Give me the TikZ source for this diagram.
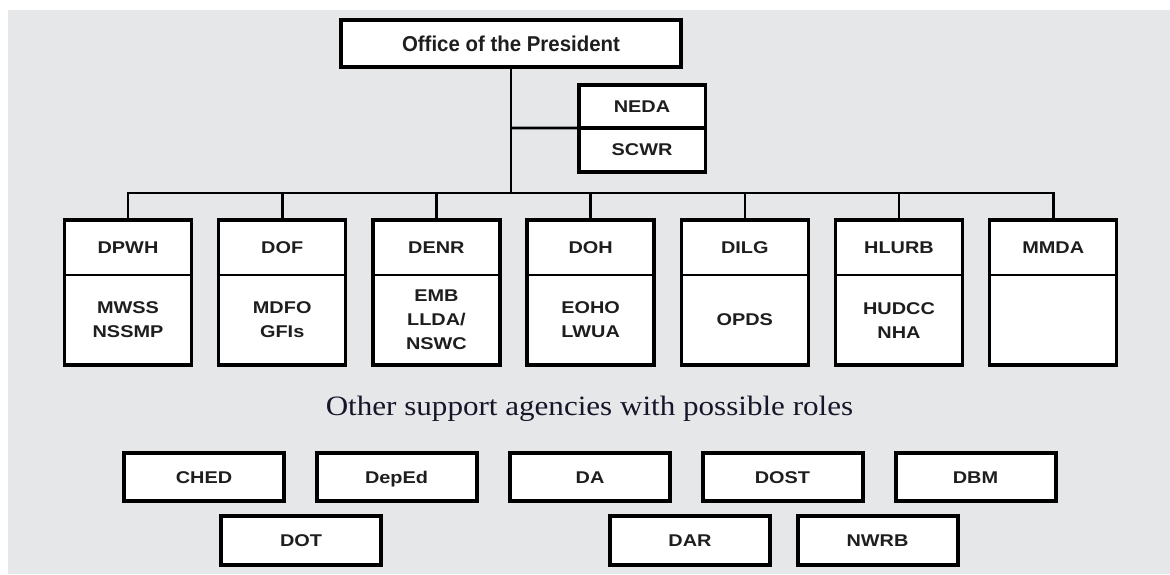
\documentclass[tikz,border=0pt]{standalone}
\usepackage{fontspec}
\setmainfont{Liberation Serif}
\newfontfamily\boxfont{Liberation Sans}[FakeStretch=1.17]
\newfontfamily\presfont{Liberation Sans}[FakeStretch=0.95]
\newfontfamily\captfont{Liberation Serif}[FakeStretch=1.11]
\definecolor{bgray}{HTML}{E6E7E9}
\definecolor{labelc}{HTML}{1E1E1E}
\definecolor{serifc}{HTML}{16162A}
\tikzset{
  outerbox/.style={draw=black, line width=3.5pt},
  headbox/.style={draw=black, line width=1.3pt, fill=white, inner sep=0pt, outer sep=0pt,
    minimum width=127pt, minimum height=55pt, align=center, text=labelc,
    font=\boxfont\bfseries\fontsize{17}{24}\selectfont},
  bodybox/.style={headbox, minimum height=90pt},
  presbox/.style={draw=black, line width=4pt, fill=white, inner sep=0pt, outer sep=0pt,
    minimum width=340pt, minimum height=47pt, text=labelc,
    font=\presfont\bfseries\fontsize{21.5}{24}\selectfont},
  sidebox/.style={draw=black, line width=3.5pt, fill=white, inner sep=0pt, outer sep=0pt,
    minimum width=126.5pt, text=labelc,
    font=\boxfont\bfseries\fontsize{17}{24}\selectfont},
  otherbox/.style={draw=black, line width=4pt, fill=white, inner sep=0pt, outer sep=0pt,
    minimum width=160pt, minimum height=48pt, text=labelc, text height=12.3pt, text depth=0pt,
    font=\boxfont\bfseries\fontsize{17}{24}\selectfont},
  conn/.style={draw=black, line width=2.6pt},
}
\begin{document}
\begin{tikzpicture}[x=1pt,y=-1pt]
\useasboundingbox (0,0) rectangle (1170,574);
\fill[white] (0,0) rectangle (1170,574);
\fill[bgray] (8,10) rectangle (1170,574);

% top
\node[presbox] (pres) at (511,43.5) {Office of the President};
\node[sidebox, minimum height=43.25pt] (neda) at (642,106.4) {NEDA};
\node[sidebox, minimum height=44.25pt] (scwr) at (642,150.1) {SCWR};

% branch boxes
\foreach \i/\hd/\bd in {1/DPWH/{MWSS\\NSSMP},2/DOF/{MDFO\\GFIs},3/DENR/{EMB\\LLDA/\\NSWC},
  4/DOH/{EOHO\\LWUA},5/DILG/{OPDS},6/HLURB/{HUDCC\\NHA},7/MMDA/{}}{
  \pgfmathsetmacro{\cx}{128+154.2*(\i-1)}
  \node[headbox] (h\i) at (\cx,247.4) {\hd};
  \node[bodybox] (b\i) at (\cx,320.1) {\bd};
  \draw[outerbox] (h\i.north west) rectangle (b\i.south east);
}

% connectors
\coordinate (barmid) at (511,193);
\coordinate (sidej) at (511,128);
\draw[conn] (pres.south) -- (barmid);
\draw[conn] (sidej) -- (neda.south west);
\draw[conn] (h1.north) |- (barmid) -| (h7.north);
\foreach \i in {2,...,6}{
  \draw[conn] (h\i.north) -- (h\i.north |- barmid);
}

% other agencies
\node[anchor=base, text=serifc, font=\captfont\fontsize{28}{30}\selectfont] (other) at (589.5,415.5)
  {Other support agencies with possible roles};

\node[otherbox] (ched)  at (204,477)   {CHED};
\node[otherbox] (deped) at (396.5,477) {DepEd};
\node[otherbox] (da)    at (590,477)   {DA};
\node[otherbox] (dost)  at (782.5,477) {DOST};
\node[otherbox] (dbm)   at (975.5,477) {DBM};
\node[otherbox, minimum height=49pt] (dot)   at (301,540.5) {DOT};
\node[otherbox, minimum height=49pt] (dar)   at (690,540.5) {DAR};
\node[otherbox, minimum height=49pt] (nwrb)  at (877.5,540.5) {NWRB};
\end{tikzpicture}
\end{document}
